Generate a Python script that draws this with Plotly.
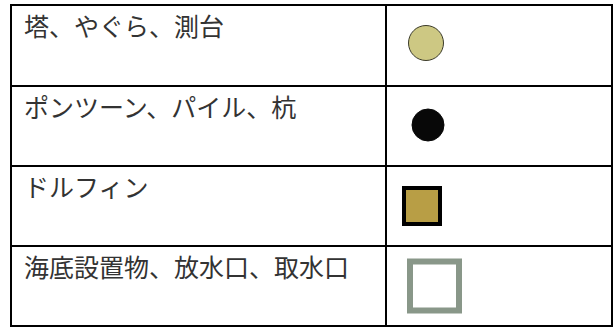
import plotly.graph_objects as go

labels = ["塔、やぐら、測台", "ポンツーン、パイル、杭", "ドルフィン", "海底設置物、放水口、取水口"]
symbols = ["circle", "circle", "square", "square"]
fills = ["#cdc883", "#080808", "#b89e45", "#ffffff"]
edges = ["#3a3a2a", "#080808", "#000000", "#899789"]
sizes = [35, 32, 36, 49]
edge_widths = [1, 1, 4, 6]

W, H = 614, 327
left, right, top, bottom = 11, 612, 5, 326
col_div = 386
row_lines = [5, 86, 166, 246, 326]
sym_x = [426, 428, 422, 434.5]
sym_y = [43, 125, 206, 286]

fig = go.Figure()

shapes = []
lw = 2
for y in row_lines:
    shapes.append(dict(type="line", x0=left - 1, x1=right + 1, y0=y, y1=y, line=dict(color="black", width=lw), xref="x", yref="y"))
for x in [left, col_div, right]:
    shapes.append(dict(type="line", x0=x, x1=x, y0=top - 1, y1=bottom + 1, line=dict(color="black", width=lw), xref="x", yref="y"))

annotations = []
for i, lab in enumerate(labels):
    annotations.append(dict(x=22, y=row_lines[i], xref="x", yref="y", text=lab, showarrow=False,
                            xanchor="left", yanchor="top",
                            font=dict(family="Noto Sans CJK JP", size=25, color="#333333")))

for i in range(len(labels)):
    fig.add_trace(go.Scatter(x=[sym_x[i]], y=[sym_y[i]], mode="markers",
                             marker=dict(symbol=symbols[i], size=sizes[i], color=fills[i],
                                         line=dict(color=edges[i], width=edge_widths[i])),
                             hoverinfo="skip", showlegend=False))

fig.update_layout(width=W, height=H, margin=dict(l=0, r=0, t=0, b=0),
                  paper_bgcolor="white", plot_bgcolor="white",
                  xaxis=dict(range=[0, W], visible=False, fixedrange=True),
                  yaxis=dict(range=[H, 0], visible=False, fixedrange=True),
                  shapes=shapes, annotations=annotations, showlegend=False)

fig.write_html("out.html", config={"displayModeBar": False},
               post_script="document.body.style.margin='0';document.body.style.overflow='hidden';")
